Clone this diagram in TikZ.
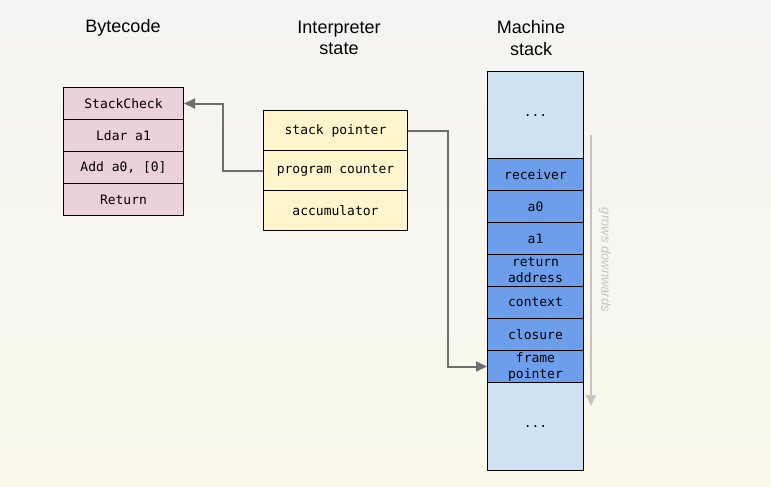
\documentclass[tikz,border=0pt]{standalone}
\usepackage{fontspec}
\setmainfont{Liberation Sans}
\newfontfamily\monof{DejaVu Sans Mono}
\usetikzlibrary{arrows.meta}
\definecolor{bgtop}{HTML}{F4F4F2}
\definecolor{bgbot}{HTML}{FAF9EB}
\definecolor{pinkc}{HTML}{EAD1DC}
\definecolor{yelc}{HTML}{FFF5CC}
\definecolor{lbluec}{HTML}{CFE2F3}
\definecolor{bluec}{HTML}{6D9EEB}
\definecolor{arrc}{HTML}{6E6E6E}
\definecolor{growc}{HTML}{C4C4C4}
\tikzset{
  cell/.style={draw=black, line width=1pt, anchor=north west, inner sep=0pt, align=center,
    font=\fontsize{13}{16}\selectfont\monof},
  bc/.style={cell, fill=pinkc, minimum width=120pt, minimum height=32pt},
  st/.style={cell, fill=yelc, minimum width=144pt, minimum height=40pt},
  ms/.style={cell, fill=bluec, minimum width=96pt, minimum height=32pt},
  msdots/.style={cell, fill=lbluec, minimum width=96pt, minimum height=88pt},
  title/.style={align=center, font=\fontsize{18}{21.5}\selectfont},
  conn/.style={draw=arrc, line width=2pt, -{Triangle[length=11pt,width=10pt]}},
}
\begin{document}
\begin{tikzpicture}[x=1pt,y=-1pt]
\fill[top color=bgtop, bottom color=bgbot] (0,0) rectangle (771,487);
\useasboundingbox (0,0) rectangle (771,487);

\node[title] (t1) at (123,28) {Bytecode};
\node[title] (t2) at (339,38) {Interpreter\\state};
\node[title] (t3) at (531,38) {Machine\\stack};

\node[bc] (sc) at (63,87) {StackCheck};
\node[bc] (ld) at (63,119) {Ldar a1};
\node[bc] (ad) at (63,151) {Add a0, [0]};
\node[bc] (rt) at (63,183) {Return};

\node[st] (sp) at (263,110) {stack pointer};
\node[st] (pc) at (263,150) {program counter};
\node[st] (ac) at (263,190) {accumulator};

\node[msdots] (d1) at (487,71) {...};
\node[ms] (rc) at (487,158) {receiver};
\node[ms] (a0) at (487,190) {a0};
\node[ms] (a1) at (487,222) {a1};
\node[ms] (ra) at (487,254) {return\\address};
\node[ms] (cx) at (487,286) {context};
\node[ms] (cl) at (487,318) {closure};
\node[ms] (fp) at (487,350) {frame\\pointer};
\node[msdots] (d2) at (487,382) {...};

\draw[conn] (pc.west) -- ++(-40,0) |- (sc.east);
\draw[conn] (sp.east) -- ++(40,0) |- (fp.west);

\coordinate (g1) at (591,135);
\coordinate (g2) at (591,406);
\draw[draw=growc, line width=2pt, -{Triangle[length=11pt,width=10pt]}] (g1) -- (g2);
\node[rotate=-90, text=growc, font=\fontsize{13}{15}\selectfont\itshape] (gl) at (605,260) {grows downwards};
\end{tikzpicture}
\end{document}
